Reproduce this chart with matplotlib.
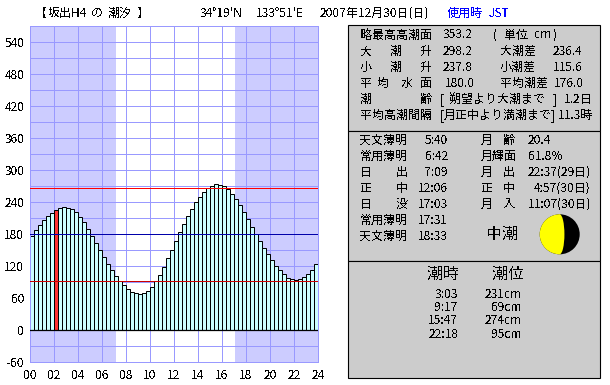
import matplotlib
matplotlib.use('Agg')
import matplotlib.pyplot as plt
from matplotlib.patches import Rectangle, Circle, Wedge, Ellipse

plt.rcParams['font.family'] = ['Noto Sans CJK JP', 'DejaVu Sans']
plt.rcParams['text.antialiased'] = False

W, H = 610, 385

# tide level every 20 minutes (cm)
tide = [176, 187, 197, 206, 214, 219, 225, 229, 231, 229, 227, 221,
        212, 202, 189, 176, 163, 150, 137, 124, 112, 101, 92, 84,
        77, 71, 69, 68, 69, 73, 81, 92, 103, 118, 135, 150,
        167, 184, 199, 214, 227, 240, 249, 259, 266, 270, 274, 272,
        270, 264, 255, 246, 234, 221, 208, 193, 180, 167, 154, 142,
        131, 120, 112, 105, 98, 96, 94, 96, 99, 105, 112, 124]
hours = [i / 3 for i in range(len(tide))]
now_index = 6

high_level = 265.6
mean_level = 180
low_level = 91.5
sunrise = 7.15
sunset = 17.05
y_labels = [-60, 0, 60, 120, 180, 240, 300, 360, 420, 480, 540]
x_labels = ['00', '02', '04', '06', '08', '10', '12', '14', '16', '18', '20', '22', '24']

header = [(35, '【'), (48, '坂出H4'), (91, 'の'), (108, '潮汐'), (137, '】'),
          (200, "34°19'N"), (256, "133°51'E"), (320, '2007年12月30日(日)')]
header_blue = [(447, '使用時'), (489, 'JST')]

datum_rows = [
    (35, [(360, '略最高高潮面'), (443, '353.2'), (493, '('), (504, '単位'), (534, 'cm'), (553, ')')]),
    (51.5, [(360, '大'), (390, '潮'), (420, '升'), (443, '298.2'), (500, '大潮差'), (553, '236.4')]),
    (67.5, [(360, '小'), (390, '潮'), (420, '升'), (443, '237.8'), (500, '小潮差'), (553, '115.6')]),
    (83.5, [(360, '平'), (377, '均'), (401, '水'), (420, '面'), (445, '180.0'), (500, '平均潮差'), (554, '176.0')]),
    (99.5, [(360, '潮'), (420, '齢'), (440, '['), (449, '朔望より大潮まで'), (553, ']'), (564, '1.2日')]),
    (115.5, [(360, '平均高潮間隔'), (440, '['), (444, '月正中より満潮まで'), (551, ']'), (558, '11.3時')]),
]
sun_rows = [
    (140.5, '天文薄明', None, '5:40'),
    (156.5, '常用薄明', None, '6:42'),
    (172.5, '日', '出', '7:09'),
    (188.5, '正', '中', '12:06'),
    (204.5, '日', '没', '17:03'),
    (220.5, '常用薄明', None, '17:31'),
    (236.5, '天文薄明', None, '18:33'),
]
moon_rows = [
    (140.5, '月', '齢', 528, '20.4'),
    (156.5, '月輝面', None, 528, '61.8%'),
    (172.5, '月', '出', 528, '22:37(29日)'),
    (188.5, '正', '中', 534, '4:57(30日)'),
    (204.5, '月', '入', 528, '11:07(30日)'),
]
tide_times = ['3:03', '9:17', '15:47', '22:18']
tide_heights = ['231cm', '69cm', '274cm', '95cm']
moon_lit = 0.618

fig = plt.figure(figsize=(W / 100, H / 100), dpi=100, facecolor='white')

# overlay in pixel coordinates for the panels and free text
bg = fig.add_axes([0, 0, 1, 1])
bg.set_xlim(0, W)
bg.set_ylim(H, 0)
bg.axis('off')


def tx(x, y, s, size=12, ha='left', color='black', ax=bg):
    ax.text(x, y, s, fontsize=size * 0.72, ha=ha, va='center', color=color)


# tide chart
left, right, top, bottom = 30, 318, 26, 362
ax = fig.add_axes([left / W, 1 - bottom / H, (right - left) / W, (bottom - top) / H])
ax.set_xlim(0, 24)
ax.set_ylim(-60, 570)
ax.set_axisbelow(True)
ax.axvspan(0, sunrise, color='#ccccff', lw=0, zorder=0)
ax.axvspan(sunset, 24, color='#ccccff', lw=0, zorder=0)
ax.set_xticks(range(0, 25, 2))
ax.set_xticklabels(x_labels, fontsize=8.6)
ax.set_yticks(y_labels)
ax.set_yticklabels([str(v) for v in y_labels], fontsize=8.6)
ax.set_yticks(range(-30, 570, 60), minor=True)
ax.tick_params(which='both', length=0)
ax.tick_params(axis='x', pad=5)
ax.tick_params(axis='y', pad=4)
ax.grid(True, which='both', color='#9999ff', linewidth=0.72, zorder=1)
for s in ax.spines.values():
    s.set_color('#9999ff')
    s.set_linewidth(0.72)

colors = ['#ff3333' if i == now_index else '#ccffff' for i in range(len(tide))]
ax.bar(hours, tide, width=1 / 3, align='edge', color=colors, edgecolor='black', linewidth=0.72, zorder=2)
ax.axhline(0, color='black', linewidth=0.9, zorder=3)
ax.axhline(high_level, color='#ff0000', linewidth=0.72, zorder=4)
ax.axhline(mean_level, color='#0000aa', linewidth=0.72, zorder=4)
ax.axhline(low_level, color='#cc0000', linewidth=0.72, zorder=4)

# header
for x, s in header:
    tx(x, 13.5, s)
for x, s in header_blue:
    tx(x, 13.5, s, color='#0000ff')

# panels
for y0, y1 in [(24.5, 130.5), (130.5, 260.5), (260.5, 377.5)]:
    bg.add_patch(Rectangle((347.5, y0), 252.5, y1 - y0, facecolor='#cccccc', edgecolor='black', linewidth=0.8))

for y, parts in datum_rows:
    for x, s in parts:
        tx(x, y, s)

for y, a, b, t in sun_rows:
    tx(360, y, a)
    if b:
        tx(396, y, b)
    tx(448, y, t, ha='right')

for y, a, b, x, v in moon_rows:
    tx(481, y, a)
    if b:
        tx(503, y, b)
    tx(x, y, v)

tx(486, 234, '中潮', size=16)

# moon
cx, cy, r = 559.7, 234.3, 20
bg.add_patch(Circle((cx, cy), r, facecolor='black', edgecolor='none'))
bg.add_patch(Wedge((cx, cy), r, 90, 270, facecolor='#ffff00', edgecolor='none'))
bg.add_patch(Ellipse((cx, cy), 2 * r * (2 * moon_lit - 1), 2 * r, facecolor='#ffff00', edgecolor='none'))

# high and low water table
tx(427, 274, '潮時', size=16)
tx(492, 274, '潮位', size=16)
for i, (t, h) in enumerate(zip(tide_times, tide_heights)):
    y = 294.5 + i * 13.2
    tx(458, y, t, ha='right')
    tx(522, y, h, ha='right')

fig.savefig('out.png', dpi=100)
